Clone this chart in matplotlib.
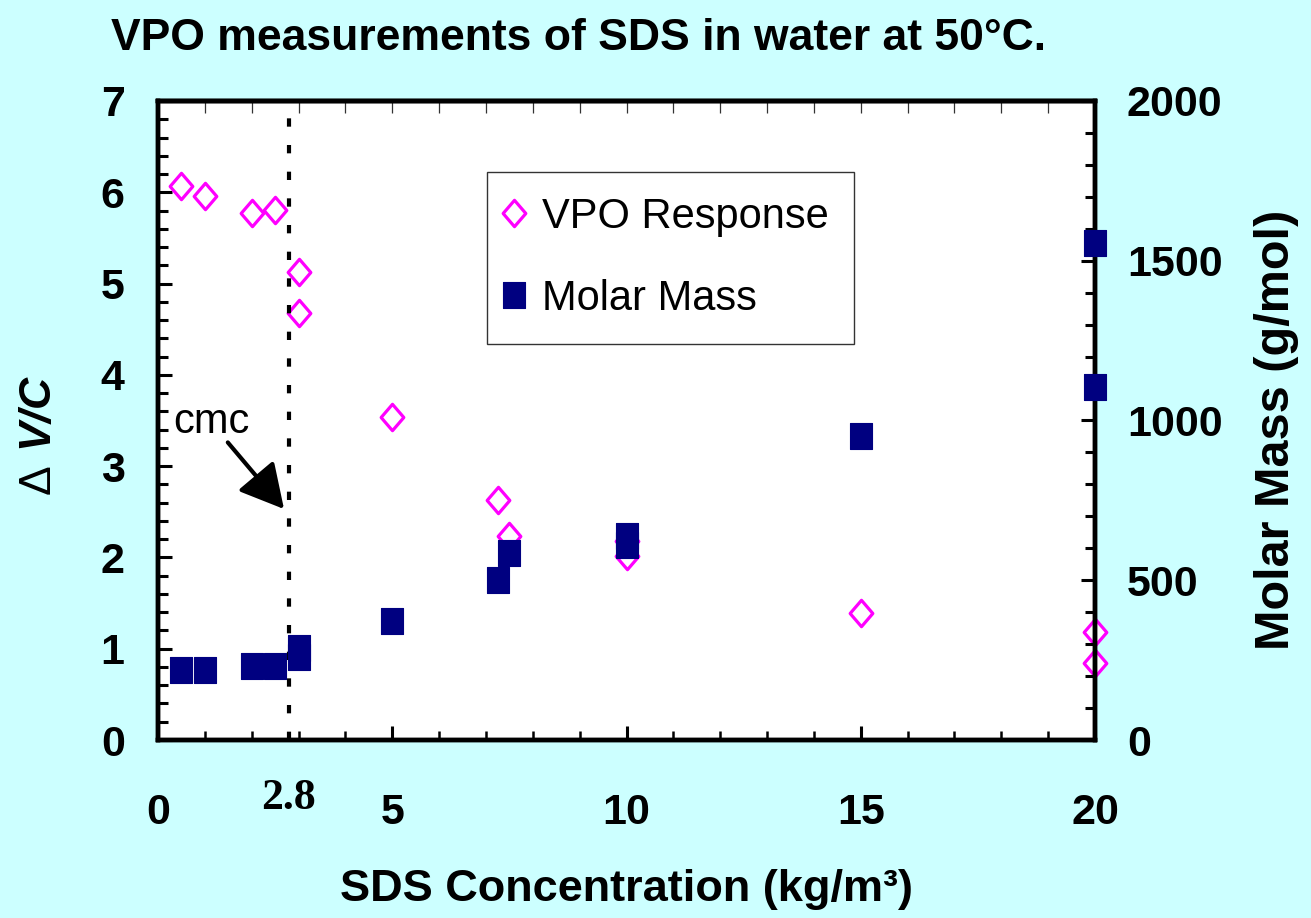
import matplotlib
matplotlib.use("Agg")
import matplotlib.pyplot as plt
import matplotlib.transforms as mtransforms
from matplotlib.path import Path
from matplotlib.ticker import MultipleLocator

plt.rcParams['font.family'] = ['Liberation Sans', 'DejaVu Sans']
plt.rcParams['mathtext.fontset'] = 'custom'
plt.rcParams['mathtext.rm'] = 'Liberation Sans'
plt.rcParams['mathtext.bfit'] = 'Liberation Sans:italic:bold'

# VPO response (left axis)
conc_vpo = [0.5, 1.0, 2.0, 2.5, 3.0, 3.0, 5.0, 7.25, 7.5, 10.0, 10.0, 15.0, 20.0, 20.0]
dv_c = [6.07, 5.96, 5.77, 5.81, 5.13, 4.68, 3.54, 2.63, 2.24, 2.18, 2.02, 1.39, 1.18, 0.84]

# molar mass (right axis)
conc_mm = [0.5, 1.0, 2.0, 2.5, 3.0, 3.0, 5.0, 7.25, 7.5, 10.0, 10.0, 15.0, 20.0, 20.0]
molar_mass = [219, 219, 231, 231, 288, 259, 372, 500, 584, 640, 609, 950, 1557, 1106]

x_ticks = [0, 5, 10, 15, 20]
y_ticks = [0, 1, 2, 3, 4, 5, 6, 7]
mm_ticks = [0, 500, 1000, 1500, 2000]
CMC = 2.8

BG = "#CCFFFF"
MAGENTA = "#FF00FF"
NAVY = "#000080"
SPINE_W = 3.2

# slightly tall marker shapes, like the original
diamond = Path([(0, 1), (0.86, 0), (0, -1), (-0.86, 0), (0, 1)],
               [Path.MOVETO, Path.LINETO, Path.LINETO, Path.LINETO, Path.CLOSEPOLY])
square = Path([(-0.88, -1), (0.88, -1), (0.88, 1), (-0.88, 1), (-0.88, -1)],
              [Path.MOVETO, Path.LINETO, Path.LINETO, Path.LINETO, Path.CLOSEPOLY])

W, H = 1311, 918
fig = plt.figure(figsize=(W / 100, H / 100), dpi=100, facecolor=BG)
ax = fig.add_axes([158 / W, (H - 740) / H, (1095 - 158) / W, (740 - 101) / H])
ax.set_facecolor("white")
ax2 = ax.twinx()

h_vpo, = ax.plot(conc_vpo, dv_c, linestyle="none", marker=diamond, markersize=19,
                 markerfacecolor="white", markeredgecolor=MAGENTA, markeredgewidth=2.3,
                 clip_on=False, zorder=2, label="VPO Response")
ax.axvline(CMC, color="black", lw=3, dashes=(2.0, 4.4), zorder=3)

h_mm, = ax2.plot(conc_mm, molar_mass, linestyle="none", marker=square, markersize=18.5,
                 markerfacecolor=NAVY, markeredgecolor=NAVY, markeredgewidth=0.8,
                 clip_on=False, zorder=4, label="Molar Mass")

ax.set_xlim(0, 20)
ax.set_ylim(0, 7)
ax2.set_ylim(0, 2000)

# ticks
ax.set_xticks(x_ticks)
ax.set_xticklabels([str(t) for t in x_ticks], fontsize=31, fontweight="bold")
ax.xaxis.set_minor_locator(MultipleLocator(1))
ax.set_yticks(y_ticks)
ax.set_yticklabels([str(t) for t in y_ticks], fontsize=31, fontweight="bold")
ax.yaxis.set_minor_locator(MultipleLocator(0.2))
ax.tick_params(axis="x", which="major", direction="in", length=10, width=2.2, pad=38, top=False)
ax.tick_params(axis="x", which="minor", direction="in", length=6.5, width=1.8, top=False)
ax.tick_params(axis="y", which="major", direction="in", length=10, width=2.2, pad=24, right=False)
ax.tick_params(axis="y", which="minor", direction="in", length=7, width=2.2, right=False)

ax2.set_yticks(mm_ticks)
ax2.set_yticklabels([str(t) for t in mm_ticks], fontsize=31, fontweight="bold")
ax2.yaxis.set_minor_locator(MultipleLocator(100))
ax2.tick_params(axis="y", which="major", direction="in", length=10, width=2.2, pad=23)
ax2.tick_params(axis="y", which="minor", direction="in", length=7, width=2.2)

top = ax.secondary_xaxis("top")
top.set_xticks(x_ticks)
top.xaxis.set_minor_locator(MultipleLocator(1))
top.tick_params(which="both", direction="in", length=8.5, width=0.9, color="#333333",
                labeltop=False)

for a in (ax, ax2):
    for s in a.spines.values():
        s.set_linewidth(SPINE_W)
top.spines["top"].set_linewidth(SPINE_W)

# the cmc marker on the x axis
blend = mtransforms.blended_transform_factory(ax.transData, ax.transAxes)
ax.text(2.78, -0.091, "2.8", transform=blend, ha="center", va="center",
        fontsize=31.5, fontweight="bold", family="Liberation Serif")

# cmc arrow
ax.text(1.15, 3.36, "cmc", fontsize=30, ha="center", va="baseline")
ax.annotate("", xy=(2.69, 2.53), xytext=(1.49, 3.26),
            arrowprops=dict(arrowstyle="-|>,head_length=27,head_width=14.5",
                            mutation_scale=1, lw=3, color="black",
                            shrinkA=0, shrinkB=0))

# labels
ax.set_ylabel(r"$\Delta\ \mathbfit{V/C}$", fontsize=32)
ax.yaxis.label.set_verticalalignment("center")
ax.yaxis.set_label_coords(-0.127, 0.476)

ax2.set_ylabel("Molar Mass (g/mol)", fontsize=35, fontweight="bold")
ax2.yaxis.label.set_verticalalignment("center")
ax2.yaxis.set_label_coords(1.194, 0.485)

ax.set_xlabel("SDS Concentration (kg/m³)", fontsize=32.5, fontweight="bold")
ax.xaxis.label.set_verticalalignment("center")
ax.xaxis.set_label_coords(0.5, -0.234)

fig.text(579 / W, 1 - 39 / H, "VPO measurements of SDS in water at 50°C.",
         ha="center", va="center", fontsize=32, fontweight="bold")

leg = ax2.legend(handles=[h_vpo, h_mm], loc="upper left",
                 bbox_to_anchor=(487 / W, 1 - 172 / H), bbox_transform=fig.transFigure,
                 borderaxespad=0, fontsize=30, numpoints=1, fancybox=False,
                 frameon=True, framealpha=1, edgecolor="#333333",
                 borderpad=0.6, labelspacing=1.0, handlelength=0.1, handletextpad=0.62)
leg.get_frame().set_linewidth(1.0)

fig.savefig("out.png", dpi=100, facecolor=BG)
